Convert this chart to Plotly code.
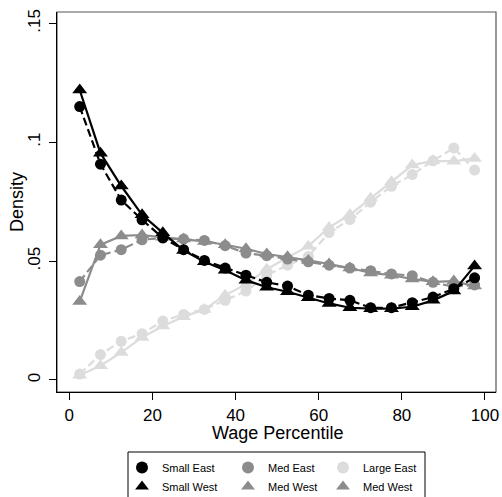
import plotly.graph_objects as go

# Wage percentile bins (midpoints of 5-point bins)
percentile = [2.5, 7.5, 12.5, 17.5, 22.5, 27.5, 32.5, 37.5, 42.5, 47.5,
              52.5, 57.5, 62.5, 67.5, 72.5, 77.5, 82.5, 87.5, 92.5, 97.5]

small_east = [0.115, 0.0908, 0.0757, 0.0674, 0.0598, 0.0548, 0.0503, 0.0471, 0.0441, 0.0411,
              0.0395, 0.0357, 0.0343, 0.0335, 0.0304, 0.0304, 0.0325, 0.0349, 0.0384, 0.0430]
small_west = [0.122, 0.0954, 0.0816, 0.0695, 0.0619, 0.0545, 0.0497, 0.0462, 0.0420, 0.0390,
              0.0371, 0.0346, 0.0322, 0.0304, 0.0300, 0.0300, 0.0308, 0.0335, 0.0374, 0.0480]
med_east = [0.0414, 0.0525, 0.0548, 0.0590, 0.0597, 0.0593, 0.0587, 0.0565, 0.0534, 0.0523,
            0.0509, 0.0497, 0.0483, 0.0471, 0.0460, 0.0446, 0.0439, 0.0411, 0.0392, 0.0400]
med_west = [0.0330, 0.0569, 0.0606, 0.0610, 0.0600, 0.0593, 0.0583, 0.0569, 0.0552, 0.0530,
            0.0518, 0.0503, 0.0488, 0.0471, 0.0450, 0.0441, 0.0425, 0.0413, 0.0416, 0.0395]
large_east = [0.0025, 0.0107, 0.0163, 0.0195, 0.0248, 0.0276, 0.0297, 0.0335, 0.0374, 0.0440,
              0.0483, 0.0520, 0.0620, 0.0675, 0.0748, 0.0815, 0.0864, 0.0922, 0.0976, 0.0883]
large_west = [0.0020, 0.0060, 0.0116, 0.0179, 0.0227, 0.0266, 0.0297, 0.0357, 0.0402, 0.0466,
              0.0515, 0.0563, 0.0642, 0.0695, 0.0764, 0.0834, 0.0904, 0.0922, 0.0920, 0.0932]

y_tick_vals = [0, 0.05, 0.1, 0.15]
y_tick_text = ["0", ".05", ".1", ".15"]
x_tick_vals = [0, 20, 40, 60, 80, 100]

BLACK = "#000000"
MED = "#8c8c8c"
LIGHT = "#dcdcdc"
FONT = "Liberation Sans, Arial, Helvetica, sans-serif"
DASH = "8px,4px"

# (values, colour, marker symbol, line dash) in drawing order
series = [
    (large_east, LIGHT, "circle", DASH),
    (large_west, LIGHT, "triangle-up", "solid"),
    (med_east, MED, "circle", DASH),
    (med_west, MED, "triangle-up", "solid"),
    (small_east, BLACK, "circle", DASH),
    (small_west, BLACK, "triangle-up", "solid"),
]

fig = go.Figure()
for vals, color, symbol, dash in series:
    fig.add_trace(go.Scatter(
        x=percentile, y=vals, mode="lines+markers",
        line=dict(color=color, width=2.2, dash=dash),
        marker=dict(symbol=symbol, size=11 if symbol == "circle" else 13, color=color),
        showlegend=False, hoverinfo="skip",
    ))

# Legend key: three columns of two entries each
legend_cols = [
    ("legend", [("Small East", BLACK, "circle"), ("Small West", BLACK, "triangle-up")]),
    ("legend2", [("Med East", MED, "circle"), ("Med West", MED, "triangle-up")]),
    ("legend3", [("Large East", LIGHT, "circle"), ("Med West", MED, "triangle-up")]),
]
for legend_id, entries in legend_cols:
    for name, color, symbol in entries:
        fig.add_trace(go.Scatter(
            x=[None], y=[None], mode="markers", name=name,
            marker=dict(symbol=symbol, size=13 if symbol == "circle" else 14, color=color),
            legend=legend_id, showlegend=True,
        ))

W, H = 502, 497
L, R, T, B = 57, 6, 12, 105
pw, ph = W - L - R, H - T - B


def px_x(p):
    return (p - L) / pw


def px_y(p):
    return (H - B - p) / ph


legend_style = dict(
    orientation="v", yanchor="top", xanchor="left",
    xref="container", yref="container",
    bgcolor="rgba(0,0,0,0)", borderwidth=0,
    font=dict(family=FONT, size=11, color="#000000"),
    itemsizing="constant", tracegroupgap=0,
)

LEG_TOP = 453
leg_y = (H - LEG_TOP) / H

fig.update_layout(
    width=W, height=H,
    margin=dict(l=L, r=R, t=T, b=B, autoexpand=False),
    paper_bgcolor="white", plot_bgcolor="white",
    font=dict(family=FONT, color="#000000"),
    legend=dict(x=122 / W, y=leg_y, **legend_style),
    legend2=dict(x=228 / W, y=leg_y, **legend_style),
    legend3=dict(x=323 / W, y=leg_y, **legend_style),
    xaxis=dict(
        range=[-2.96, 102.65], tickvals=x_tick_vals,
        ticks="outside", ticklen=7, tickwidth=1.2, tickcolor="#000000",
        showgrid=False, zeroline=False,
        showline=True, linecolor="#000000", linewidth=1.3,
        tickfont=dict(size=17, family=FONT),
    ),
    yaxis=dict(
        range=[-0.00505, 0.1548], tickvals=y_tick_vals, ticktext=y_tick_text,
        tickangle=-90,
        ticks="outside", ticklen=7, tickwidth=1.2, tickcolor="#000000",
        ticklabelstandoff=2,
        showgrid=False, zeroline=False,
        showline=True, linecolor="#000000", linewidth=1.3,
        tickfont=dict(size=17, family=FONT),
    ),
    annotations=[
        dict(text="Wage Percentile", xref="paper", yref="paper",
             x=px_x(277), y=px_y(433), xanchor="center", yanchor="middle",
             showarrow=False, font=dict(size=18, family=FONT)),
        dict(text="Density", xref="paper", yref="paper", textangle=-90,
             x=px_x(17), y=px_y(202), xanchor="center", yanchor="middle",
             showarrow=False, font=dict(size=18, family=FONT)),
    ],
    shapes=[
        # plot region outline
        dict(type="rect", xref="paper", yref="paper", x0=0, x1=1, y0=0, y1=1,
             line=dict(color="#555555", width=1.2), layer="below"),
        # legend box
        dict(type="rect", xref="paper", yref="paper",
             x0=px_x(128), x1=px_x(425), y0=px_y(452), y1=px_y(499),
             line=dict(color="#000000", width=1)),
    ],
)

fig.write_html("out.html")
